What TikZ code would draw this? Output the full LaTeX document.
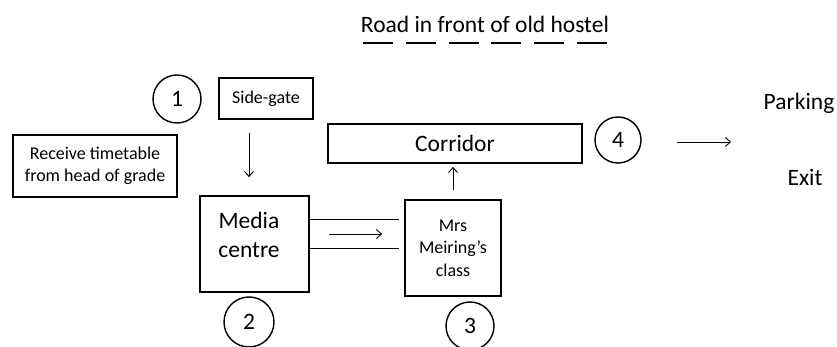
\documentclass[tikz,border=0pt]{standalone}
\usepackage{fontspec}
\setmainfont{Carlito}
\usetikzlibrary{arrows.meta}
\begin{document}
\begin{tikzpicture}[x=1pt,y=-1pt,
  big/.style={font=\fontsize{23.5}{29}\selectfont},
  small/.style={font=\fontsize{18}{22.5}\selectfont},
  box/.style={draw, line width=1.8pt, inner sep=0pt},
  num/.style={draw, circle, line width=1.4pt, inner sep=0pt, big},
  conn/.style={line width=0.9pt},
  arr/.style={conn, -{Straight Barb[length=5pt,width=9pt,line width=0.9pt]}}]
\useasboundingbox (0,0) rectangle (837,347);
% title and road
\node[big] (title) at (485,24) {Road in front of old hostel};
\coordinate (rl) at (363,43);
\coordinate (rr) at (607,43);
\draw[line width=1.2pt, dash pattern=on 30pt off 12.8pt] (rl) -- (rr);
% boxes
\node[box, small, minimum width=164pt, minimum height=62pt, align=center] (rt) at (95,166) {Receive timetable\\from head of grade};
\node[box, small, minimum width=94pt, minimum height=41pt] (sg) at (266,98.5) {Side-gate};
\node[box, minimum width=109pt, minimum height=96pt] (mc) at (254.5,244) {};
\node[big, align=center] (mctext) at (249,234.5) {Media\\centre};
\node[box, small, minimum width=96pt, minimum height=96pt, align=center] (mrs) at (453,248) {Mrs\\Meiring’s\\class};
\node[box, big, minimum width=254pt, minimum height=39pt] (cor) at (455,143.5) {Corridor};
% numbered circles
\node[num, minimum size=48pt] (c1) at (177,99) {1};
\node[num, minimum size=50pt] (c2) at (249,322) {2};
\node[num, minimum size=48pt] (c3) at (470,326) {3};
\node[num, minimum size=46pt] (c4) at (618,140) {4};
% right labels
\node[big] (park) at (799,103) {Parking};
\node[big] (exit) at (805,178) {Exit};
\coordinate (aend) at (731,142);
% connectors
\draw[arr, shorten <=13pt, shorten >=18pt] (sg.south -| mctext) -- (mctext |- mc.north);
\draw[conn, shorten >=5pt] ([yshift=25pt]mc.east) -- ([yshift=25pt]mc.east -| mrs.west);
\draw[conn, shorten >=5pt] ([yshift=-4pt]mc.east) -- ([yshift=-4pt]mc.east -| mrs.west);
\draw[arr, shorten <=19pt, shorten >=22pt] ([yshift=10pt]mc.east) -- ([yshift=10pt]mc.east -| mrs.west);
\draw[arr, shorten <=9pt, shorten >=3pt] (mrs.north) -- (mrs.north |- cor.south);
\draw[arr, shorten <=35pt] (c4.east |- aend) -- (aend);
\end{tikzpicture}
\end{document}
